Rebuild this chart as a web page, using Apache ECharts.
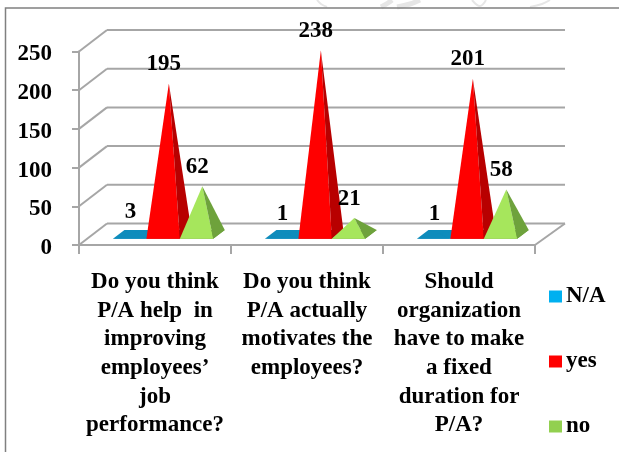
<!DOCTYPE html>
<html>
<head>
<meta charset="utf-8">
<style>html,body{margin:0;padding:0;background:#fff}#chart{width:619px;height:452px}</style>
<script src="https://cdn.jsdelivr.net/npm/echarts@6/dist/echarts.min.js"></script>
</head>
<body>
<div id="chart"></div>
<script>
// Survey responses on performance appraisal (P/A)
const categories = [
  'Do you think\nP/A help  in\nimproving\nemployees\u2019\njob\nperformance?',
  'Do you think\nP/A actually\nmotivates the\nemployees?',
  'Should\norganization\nhave to make\na fixed\nduration for\nP/A?'
];
const naValues = [3, 1, 1];
const yesValues = [195, 238, 201];
const noValues = [62, 21, 58];
const gridTicks = [0, 50, 100, 150, 200, 250];

const FONT = '"Liberation Serif","Times New Roman",serif';
const WALL = { dx: 28, dy: -21.5, rightDx: 30 }; // depth of the pseudo-3D box
const BASE = { front: 0.29, back: 0.70 };        // where pyramids sit along that depth
const LINE = '#a6a6a6';

// Back wall, side wall and floor lines of the box
function wallItem(params, api) {
  const v = api.value(0);
  const first = api.coord([0, v]);
  const band = api.size([1, 0])[0];
  const x0 = first[0] - band / 2;
  const x1 = x0 + band * categories.length;
  const y = first[1];
  const style = { stroke: LINE, lineWidth: 2, fill: null };
  const children = [
    { type: 'line', shape: { x1: x0, y1: y, x2: x0 + WALL.dx, y2: y + WALL.dy }, style },
    { type: 'line', shape: { x1: x0 + WALL.dx, y1: y + WALL.dy, x2: x1 + WALL.rightDx, y2: y + WALL.dy }, style }
  ];
  if (v === 0) {
    children.push({ type: 'line', shape: { x1, y1: y, x2: x1 + WALL.rightDx, y2: y + WALL.dy }, style });
  }
  return { type: 'group', children };
}

// One pyramid: floor footprint, front face, right face and its value label
function pyramidItem(slot, light, dark) {
  return function (params, api) {
    const i = api.value(0);
    const v = api.value(1);
    const band = api.size([1, 0])[0];
    const w = band * 0.22;
    const top = api.coord([i, v]);
    const foot = api.coord([i, 0]);
    const left = foot[0] + (slot - 1.5) * w;
    const right = left + w;
    const fx = WALL.dx * BASE.front, fy = WALL.dy * BASE.front;
    const bx = WALL.dx * BASE.back, by = WALL.dy * BASE.back;
    const mx = (fx + bx) / 2, my = (fy + by) / 2;
    const apex = [(left + right) / 2 + mx, top[1] + my];
    const fl = [left + fx, foot[1] + fy], fr = [right + fx, foot[1] + fy];
    const bl = [left + bx, foot[1] + by], br = [right + bx, foot[1] + by];
    return {
      type: 'group',
      children: [
        { type: 'polygon', shape: { points: [fl, fr, br, bl] }, style: { fill: dark } },
        { type: 'polygon', shape: { points: [fl, fr, apex] }, style: { fill: v < 10 ? dark : light } },
        { type: 'polygon', shape: { points: [fr, br, apex] }, style: { fill: dark } },
        {
          type: 'text', z2: 100,
          style: {
            x: apex[0] - 5, y: apex[1] - 19.5, text: String(v),
            font: 'bold 23px ' + FONT, fill: '#000',
            textAlign: 'center', textVerticalAlign: 'middle'
          }
        }
      ]
    };
  };
}

function pyramidSeries(name, values, slot, swatch, light, dark) {
  return {
    name, type: 'custom', clip: false,
    itemStyle: { color: swatch },
    encode: { x: 0, y: 1 },
    data: values.map((v, i) => [i, v]),
    renderItem: pyramidItem(slot, light, dark)
  };
}

// Faint marks of the page background showing above the frame
const backdropStrokes = [
  { points: [[317, 0], [321, 4], [327, 7]], width: 2 },
  { points: [[381, 7], [388, 3], [392, 0]], width: 5 },
  { points: [[397, 7], [410, 4], [420, 0]], width: 5 },
  { points: [[472, 0], [480, 6], [486, 0]], width: 2 },
  { points: [[530, 7], [542, 4], [550, 0]], width: 2 }
];

const chart = echarts.init(document.getElementById('chart'), null, { renderer: 'canvas' });
chart.setOption({
  animation: false,
  backgroundColor: '#fff',
  grid: { left: 79, top: 51.5, width: 456, height: 193.5, containLabel: false },
  xAxis: {
    type: 'category',
    data: categories,
    axisLine: { lineStyle: { color: LINE, width: 2 } },
    axisTick: { show: true, length: 9, lineStyle: { color: LINE, width: 2 } },
    axisLabel: {
      interval: 0, margin: 23, lineHeight: 28.6, color: '#000',
      fontFamily: FONT, fontWeight: 'bold', fontSize: 23
    }
  },
  yAxis: {
    type: 'value', min: 0, max: 250, interval: 50,
    axisLine: { show: true, lineStyle: { color: LINE, width: 2 } },
    axisTick: { show: true, length: 7, lineStyle: { color: LINE, width: 2 } },
    splitLine: { show: false },
    axisLabel: {
      margin: 27, color: '#000',
      formatter: '{tick|{value}}',
      rich: { tick: { padding: [6, 0, 0, 0], fontFamily: FONT, fontWeight: 'bold', fontSize: 23, color: '#000' } }
    }
  },
  legend: {
    orient: 'vertical', left: 549, top: 285, itemWidth: 13, itemHeight: 12, itemGap: 42,
    icon: 'rect', padding: 0,
    textStyle: { fontFamily: FONT, fontWeight: 'bold', fontSize: 23, color: '#000', padding: [0, 0, 0, -1] },
    data: ['N/A', 'yes', 'no']
  },
  graphic: [
    ...backdropStrokes.map(s => ({
      type: 'polyline', silent: true,
      shape: { points: s.points, smooth: 0.4 },
      style: { stroke: '#e6e6e6', lineWidth: s.width, fill: null }
    })),
    {
      type: 'polyline', silent: true,
      shape: { points: [[619, 8], [5.5, 8], [5.5, 452]] },
      style: { stroke: '#808080', lineWidth: 1.5, fill: null }
    }
  ],
  series: [
    {
      type: 'custom', clip: false, silent: true, z: 1,
      encode: { x: 1, y: 0 },
      data: gridTicks.map(v => [v, 0]),
      renderItem: wallItem
    },
    pyramidSeries('N/A', naValues, 0, '#00b0f0', '#0e93c4', '#0e8cbc'),
    pyramidSeries('yes', yesValues, 1, '#ff0000', '#ff0000', '#b80000'),
    pyramidSeries('no', noValues, 2, '#92d050', '#a6e65c', '#6ea23c')
  ]
});
</script>
</body>
</html>
